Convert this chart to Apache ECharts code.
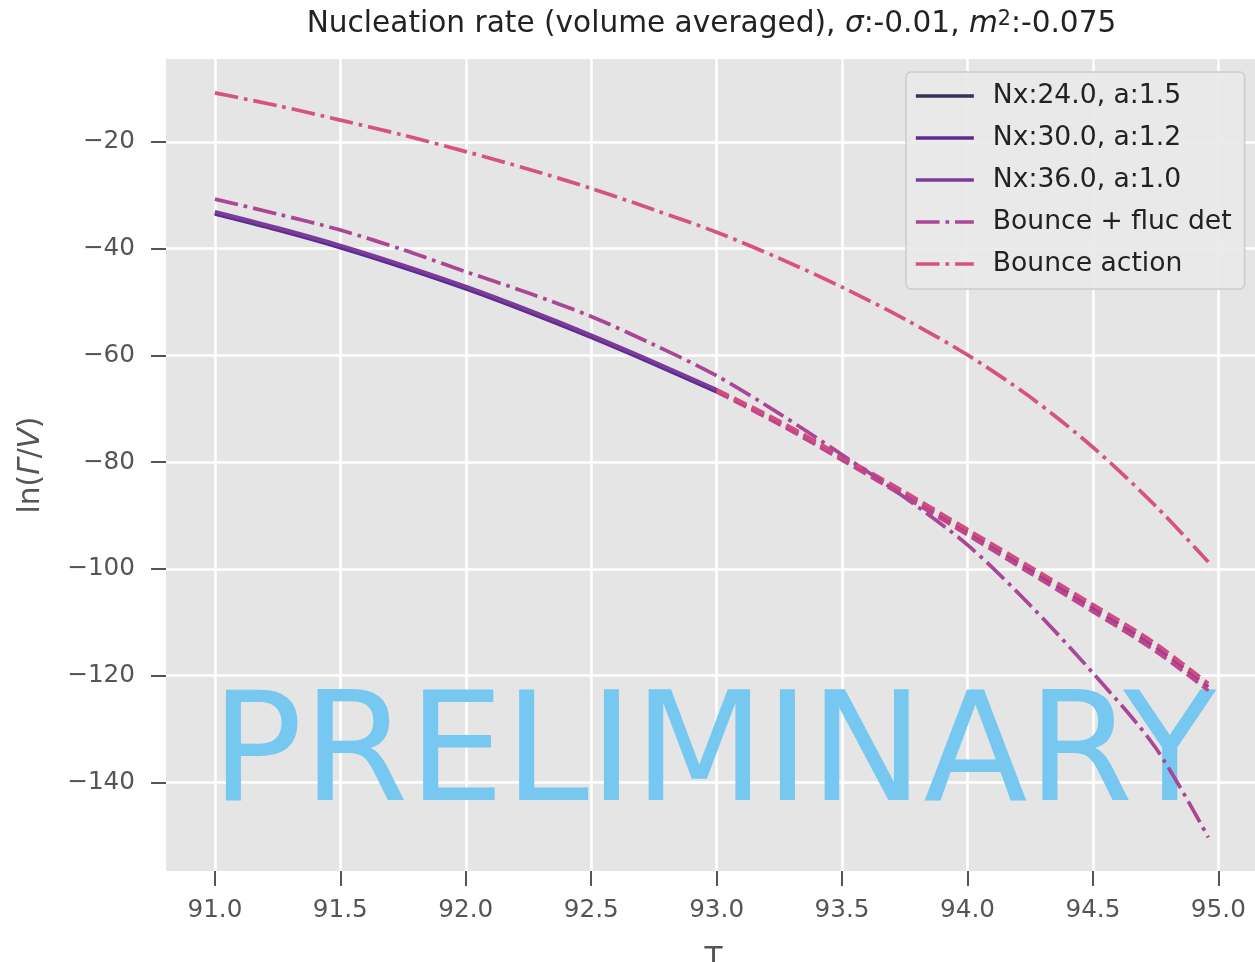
<!DOCTYPE html>
<html>
<head>
<meta charset="utf-8">
<script src="https://cdn.jsdelivr.net/npm/echarts@6/dist/echarts.min.js"></script>
<style>
html,body{margin:0;padding:0;background:#fff;overflow:hidden;}
#chart{width:1255px;height:962px;}
</style>
</head>
<body>
<div id="chart"></div>
<script>
// ---- data ----
const tSolid = [91.0, 91.25, 91.5, 91.75, 92.0, 92.25, 92.5, 92.75, 93.0];
const nx24 = [-33.3, -36.3, -39.6, -43.3, -47.3, -51.7, -56.4, -61.4, -66.6];
const nx30 = [-33.5, -36.5, -39.8, -43.5, -47.5, -51.9, -56.6, -61.6, -66.8];
const nx36 = [-33.1, -36.1, -39.4, -43.1, -47.1, -51.5, -56.2, -61.2, -66.4];

const tExt = [93.0, 93.25, 93.5, 93.75, 94.0, 94.25, 94.5, 94.75, 94.96];
const ext24 = [-66.6, -72.6, -79.2, -86.0, -93.1, -100.2, -107.3, -114.7, -122.1];
const ext30 = [-66.8, -72.9, -79.6, -86.5, -93.6, -100.8, -108.0, -115.4, -122.8];
const ext36 = [-66.4, -72.3, -78.9, -85.6, -92.6, -99.6, -106.7, -114.0, -121.5];

const tFull = [91.0, 91.25, 91.5, 91.75, 92.0, 92.25, 92.5, 92.75, 93.0, 93.25, 93.5, 93.75, 94.0, 94.25, 94.5, 94.75, 94.96];
const bounceFluc = [-30.7, -33.5, -36.5, -40.2, -44.3, -48.3, -52.7, -58.0, -63.8, -70.9, -78.6, -86.6, -95.5, -106.8, -119.5, -133.5, -150.3];
const bounceAction = [-10.8, -13.2, -15.9, -18.7, -21.8, -25.1, -28.7, -32.7, -36.9, -41.8, -47.2, -53.2, -59.9, -67.8, -77.2, -88.2, -98.7];

const xTicks = [91.0, 91.5, 92.0, 92.5, 93.0, 93.5, 94.0, 94.5, 95.0];
const yTicks = [-140, -120, -100, -80, -60, -40, -20];
const seriesNames = ['Nx:24.0, a:1.5', 'Nx:30.0, a:1.2', 'Nx:36.0, a:1.0', 'Bounce + fluc det', 'Bounce action'];

// ---- chart ----
const pairs = (xs, ys) => xs.map((x, i) => [x, ys[i]]);
const FONT = 'DejaVu Sans';
const LW = 3.7;
const dashDot = [23.7, 5.9, 3.7, 5.9];
const dashed = [13.7, 5.9];
const colors = ['#3a2d5a', '#5b2b8e', '#7b3b9b', '#ab4695', '#d8527f'];

function lineSeries(name, xs, ys, color, type, z) {
  return {
    name: name, type: 'line', data: pairs(xs, ys), symbol: 'none', showSymbol: false, smooth: 0.3,
    lineStyle: {color: color, width: LW, type: type, cap: 'butt'},
    itemStyle: {color: color}, z: z, silent: true
  };
}

const chart = echarts.init(document.getElementById('chart'), null, {renderer: 'canvas'});
const option = {
  animation: false,
  backgroundColor: '#ffffff',
  grid: {left: 166, top: 59, width: 1095, height: 812, show: true, backgroundColor: '#e5e5e5', borderWidth: 0,
    containLabel: false, outerBoundsMode: 'none'},
  xAxis: {
    type: 'value', min: 90.805, max: 95.17,
    name: 'T', nameLocation: 'middle', nameGap: 74,
    nameTextStyle: {fontFamily: FONT, fontSize: 29.6, color: '#555555'},
    axisLine: {show: false},
    axisTick: {show: true, length: 15, lineStyle: {color: '#555555', width: 2}, customValues: xTicks},
    axisLabel: {fontFamily: FONT, fontSize: 24.7, color: '#555555', margin: 27, customValues: xTicks, formatter: v => Number(v).toFixed(1)},
    splitLine: {show: true, lineStyle: {color: '#ffffff', width: 2.5}}
  },
  yAxis: {
    type: 'value', min: -156.6, max: -4.45,
    name: '{n|ln(}{i|Γ}{n|/}{i|V}{n|)}', nameLocation: 'middle', nameGap: 120,
    nameTextStyle: {
      fontFamily: FONT, fontSize: 29.6, color: '#555555',
      rich: {
        n: {fontFamily: FONT, fontSize: 29.6, color: '#555555'},
        i: {fontFamily: FONT, fontSize: 29.6, color: '#555555', fontStyle: 'italic'}
      }
    },
    axisLine: {show: false},
    axisTick: {show: true, length: 15, lineStyle: {color: '#555555', width: 2}, customValues: yTicks},
    axisLabel: {fontFamily: FONT, fontSize: 24.7, color: '#555555', margin: 31, customValues: yTicks,
      formatter: v => (v < 0 ? '\u2212' : '') + Math.abs(Math.round(v))},
    splitLine: {show: true, lineStyle: {color: '#ffffff', width: 2.5}}
  },
  legend: {
    orient: 'vertical', left: 906, top: 72,
    padding: [9, 13, 10, 8],
    itemWidth: 58, itemHeight: 14, itemGap: 12,
    itemStyle: {opacity: 0},
    lineStyle: {width: 3.7, cap: 'butt'},
    backgroundColor: 'rgba(233,233,233,0.9)', borderColor: '#cccccc', borderWidth: 1.5, borderRadius: 5,
    textStyle: {fontFamily: FONT, fontSize: 26.6, color: '#222222', lineHeight: 30, padding: [0, 0, 0, 14]},
    data: seriesNames,
    selectedMode: false
  },
  graphic: [
    {
      type: 'text', z: 100, silent: true,
      style: {
        x: 711.5, y: 24, align: 'center', verticalAlign: 'middle',
        text: '{n|Nucleation rate (volume averaged), }{i|σ}{n|:-0.01, }{i|m}{s|2}{n|:-0.075}',
        rich: {
          n: {fontFamily: FONT, fontSize: 29.6, fill: '#222222'},
          i: {fontFamily: FONT, fontSize: 29.6, fill: '#222222', fontStyle: 'italic'},
          s: {fontFamily: FONT, fontSize: 20.7, fill: '#222222', verticalAlign: 'top', padding: [0, 0, 8, 0]}
        }
      }
    },
    {
      type: 'text', z: 1, silent: true,
      style: {
        x: 211, y: 760.5, align: 'left', verticalAlign: 'middle',
        text: 'PRELIMINARY',
        fontFamily: FONT, fontSize: 152, fill: '#76c8f1'
      }
    }
  ],
  series: [
    lineSeries(seriesNames[0], tSolid, nx24, colors[0], 'solid', 3),
    lineSeries(seriesNames[1], tSolid, nx30, colors[1], 'solid', 3),
    lineSeries(seriesNames[2], tSolid, nx36, colors[2], 'solid', 3),
    lineSeries('ext-24', tExt, ext24, '#9a3f95', dashed, 3),
    lineSeries('ext-30', tExt, ext30, '#c0458a', dashed, 3),
    lineSeries('ext-36', tExt, ext36, '#d44c7e', dashed, 3),
    lineSeries(seriesNames[3], tFull, bounceFluc, colors[3], dashDot, 4),
    lineSeries(seriesNames[4], tFull, bounceAction, colors[4], dashDot, 4)
  ]
};
chart.setOption(option);
</script>
</body>
</html>
